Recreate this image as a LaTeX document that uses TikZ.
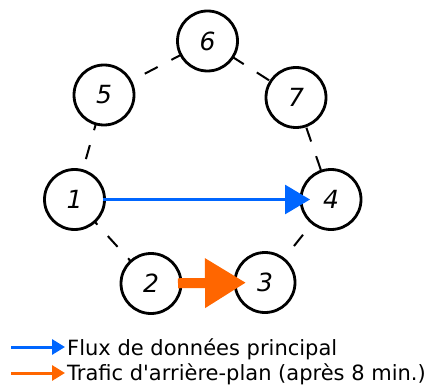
\documentclass[tikz,border=0pt]{standalone}
\usepackage{fontspec}
\setmainfont{DejaVu Sans}
\usetikzlibrary{arrows.meta}
\definecolor{mainblue}{HTML}{0066FF}
\definecolor{bgorange}{HTML}{FF6600}
\begin{document}
\begin{tikzpicture}[x=1pt,y=-1pt,
  netnode/.style={circle,draw=black,fill=white,line width=2.8pt,minimum size=60pt,inner sep=0pt,
    font=\fontsize{25}{29}\selectfont\itshape},
  ringedge/.style={draw=black,line width=2pt,dash pattern=on 14.5pt off 15.5pt},
  mainflow/.style={draw=mainblue,line width=3pt,-{Triangle[length=25pt,width=29pt]}},
  bgflow/.style={draw=bgorange,line width=10pt,-{Triangle[length=41pt,width=47pt]}},
  legblue/.style={draw=mainblue,line width=3pt,-{Triangle[length=13pt,width=15pt]}},
  legorange/.style={draw=bgorange,line width=3pt,-{Triangle[length=13pt,width=15pt]}},
  legtext/.style={anchor=base west,inner sep=0pt,font=\fontsize{21}{25}\selectfont}
]
\useasboundingbox (0,0) rectangle (427,387);
% node positions
\coordinate (p6) at (207.5,41);
\coordinate (p5) at (104,95);
\coordinate (p7) at (296,97.5);
\coordinate (p1) at (74.5,199.5);
\coordinate (p4) at (331,199.5);
\coordinate (p2) at (151,283.5);
\coordinate (p3) at (265,282.5);
% dashed ring edges (behind nodes)
\draw[ringedge,dash phase=14pt] (p5) -- (p6);
\draw[ringedge,dash phase=28pt] (p7) -- (p6);
\draw[ringedge,dash phase=28pt] (p7) -- (p4);
\draw[ringedge,dash phase=15pt] (p4) -- (p3);
\draw[ringedge,dash phase=10.5pt] (p1) -- (p2);
\draw[ringedge,dash phase=18pt] (p1) -- (p5);
% nodes
\node[netnode] (n6) at (p6) {6};
\node[netnode] (n5) at (p5) {5};
\node[netnode] (n7) at (p7) {7};
\node[netnode] (n1) at (p1) {1};
\node[netnode] (n4) at (p4) {4};
\node[netnode] (n2) at (p2) {2};
\node[netnode] (n3) at (p3) {3};
% flows
\draw[mainflow,shorten <=28.5pt,shorten >=21pt] (n1.center) -- (n4.center);
\draw[bgflow,shorten <=27pt,shorten >=19pt] (n2.center) -- (n3.center);
% legend
\coordinate (la1) at (11,347);
\coordinate (lb1) at (65,347);
\coordinate (la2) at (11,373);
\coordinate (lb2) at (65,373);
\draw[legblue] (la1) -- (lb1);
\draw[legorange] (la2) -- (lb2);
\node[legtext] (t1) at (67,355) {Flux de données principal};
\node[legtext] (t2) at (67,380.5) {Trafic d\textquotesingle arrière-plan (après 8 min.)};
\end{tikzpicture}
\end{document}
